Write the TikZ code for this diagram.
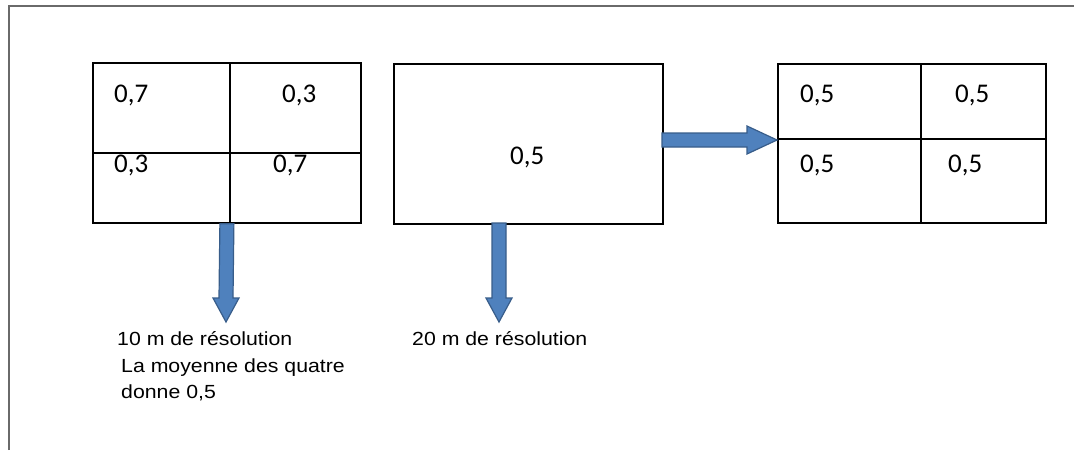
\documentclass[tikz,border=0pt]{standalone}
\usepackage{fontspec}
\setmainfont{Liberation Sans}
\newfontfamily\calfont{Carlito}
\usetikzlibrary{calc}
\definecolor{arrowfill}{HTML}{4F81BD}
\definecolor{arrowedge}{HTML}{385D8A}
\definecolor{framegray}{HTML}{6A6A6A}
\tikzset{
  gridbox/.style={draw=black, line width=1.8pt, rectangle, inner sep=0pt, anchor=north west},
  gridline/.style={draw=black, line width=1.8pt},
  num/.style={font=\calfont\fontsize{27}{32}\selectfont, inner sep=0pt, anchor=base west},
  lab/.style={font=\fontsize{19}{23}\selectfont, inner sep=0pt, anchor=base west},
  blockarrow/.style={fill=arrowfill, draw=arrowedge, line width=1.2pt, line join=miter},
  frameline/.style={draw=framegray, line width=2pt}
}
\begin{document}
\begin{tikzpicture}[x=1pt,y=-1pt]
\useasboundingbox (0,0) rectangle (1074,450);
\draw[frameline] (9,450) -- (9,6) -- (1074,6);

% left grid
\node[gridbox, minimum width=268pt, minimum height=160pt] (g1) at (92,62) {};
\draw[gridline] (230,62) -- (230,222);
\draw[gridline] (92,153) -- (360,153);
\node[num] (g1a) at (114,102) {0,7};
\node[num] (g1b) at (282,102) {0,3};
\node[num] (g1c) at (114,172) {0,3};
\node[num] (g1d) at (273,172) {0,7};

% middle box
\node[gridbox, minimum width=269pt, minimum height=160pt] (m) at (393,63) {};
\node[num] (ma) at (510,164) {0,5};

% right grid
\node[gridbox, minimum width=268pt, minimum height=159pt] (g3) at (777,63) {};
\draw[gridline] (921,63) -- (921,222);
\draw[gridline] (777,139) -- (1045,139);
\node[num] (g3a) at (800,102) {0,5};
\node[num] (g3b) at (955,102) {0,5};
\node[num] (g3c) at (800,172) {0,5};
\node[num] (g3d) at (948,172) {0,5};

% arrows
\coordinate (a1s) at (g1.south);
\coordinate (a1e) at (226,322);
\draw[blockarrow] ($(a1s)+(-7,0)$) -- ($(a1s)+(7,0)$) -- ($(a1e)+(7,-24)$) -- ($(a1e)+(13,-24)$)
  -- (a1e) -- ($(a1e)+(-13,-24)$) -- ($(a1e)+(-7,-24)$) -- cycle;

\coordinate (a2s) at (499,223);
\coordinate (a2e) at (499,322);
\draw[blockarrow] ($(a2s)+(-7,0)$) -- ($(a2s)+(7,0)$) -- ($(a2e)+(7,-24)$) -- ($(a2e)+(13,-24)$)
  -- (a2e) -- ($(a2e)+(-13,-24)$) -- ($(a2e)+(-7,-24)$) -- cycle;

\coordinate (a3s) at (662,140);
\coordinate (a3e) at (777,140);
\draw[blockarrow] ($(a3s)+(0,-7)$) -- ($(a3e)+(-30,-7)$) -- ($(a3e)+(-30,-14)$) -- (a3e)
  -- ($(a3e)+(-30,14)$) -- ($(a3e)+(-30,7)$) -- ($(a3s)+(0,7)$) -- cycle;

% labels
\node[lab] (l1) at (117,345) {\scalebox{1.12}[1]{10 m de résolution}};
\node[lab] (l2) at (121,372) {\scalebox{1.12}[1]{La moyenne des quatre}};
\node[lab] (l3) at (121,398) {\scalebox{1.12}[1]{donne 0,5}};
\node[lab] (l4) at (412,345) {\scalebox{1.12}[1]{20 m de résolution}};
\end{tikzpicture}
\end{document}
